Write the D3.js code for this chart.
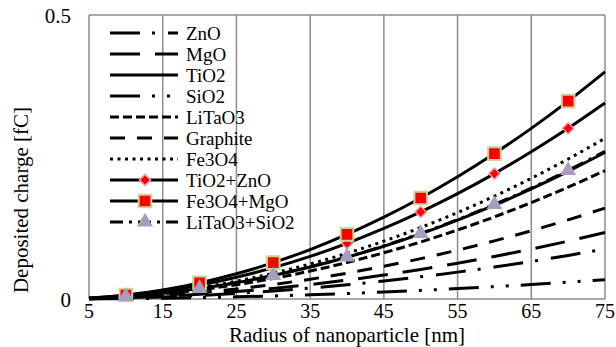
<!DOCTYPE html>
<html lang="en">
<head>
    <script src="https://d3js.org/d3.v7.min.js"></script>
    <style>
        body { margin: 0; background: #fff; }
    </style>
</head>
<body>
<script>
    const w = 616
    const h = 347
    const font = "'Liberation Serif', 'Times New Roman', 'DejaVu Serif', serif"

    // radius of nanoparticle [nm]
    const radius = [5, 10, 15, 20, 25, 30, 35, 40, 45, 50, 55, 60, 65, 70, 75]

    // deposited charge [fC]
    const znO     = [0.0004, 0.0016, 0.0035, 0.0063, 0.0098, 0.0141, 0.0192, 0.025, 0.0317, 0.0391, 0.0473, 0.0563, 0.0661, 0.0767, 0.088]
    const mgO     = [0.0005, 0.0021, 0.0047, 0.0083, 0.013, 0.0187, 0.0255, 0.0333, 0.0421, 0.052, 0.0629, 0.0749, 0.0879, 0.1019, 0.117]
    const tiO2    = [0.0011, 0.0046, 0.0103, 0.0183, 0.0287, 0.0413, 0.0562, 0.0734, 0.0929, 0.1147, 0.1388, 0.1651, 0.1938, 0.2247, 0.258]
    const siO2    = [0.0002, 0.0006, 0.0014, 0.0024, 0.0038, 0.0054, 0.0074, 0.0097, 0.0122, 0.0151, 0.0183, 0.0218, 0.0255, 0.0296, 0.034]
    const liTaO3  = [0.001, 0.004, 0.009, 0.0161, 0.0251, 0.0362, 0.0492, 0.0643, 0.0814, 0.1004, 0.1215, 0.1446, 0.1698, 0.1969, 0.226]
    const graphite = [0.0007, 0.0028, 0.0064, 0.0114, 0.0178, 0.0256, 0.0348, 0.0455, 0.0576, 0.0711, 0.086, 0.1024, 0.1202, 0.1394, 0.16]
    const fe3O4   = [0.0013, 0.005, 0.0113, 0.0201, 0.0314, 0.0453, 0.0616, 0.0805, 0.1019, 0.1258, 0.1522, 0.1811, 0.2125, 0.2465, 0.283]
    const tiO2ZnO = [0.0015, 0.0061, 0.0138, 0.0245, 0.0383, 0.0552, 0.0751, 0.0981, 0.1242, 0.1533, 0.1855, 0.2208, 0.2591, 0.3005, 0.345]
    const fe3O4MgO = [0.0018, 0.0071, 0.016, 0.0284, 0.0444, 0.064, 0.0871, 0.1138, 0.144, 0.1778, 0.2151, 0.256, 0.3004, 0.3484, 0.40]
    const liTaO3SiO2 = [0.0012, 0.0046, 0.0104, 0.0185, 0.0289, 0.0416, 0.0566, 0.074, 0.0936, 0.1156, 0.1398, 0.1664, 0.1953, 0.2265, 0.26]

    const xTicks = [5, 15, 25, 35, 45, 55, 65, 75]
    const yTicks = [0, 0.5]

    // name, values, dash, marker
    const series = [
        {name: "ZnO", vals: znO, dash: "30,12,3,13", marker: null},
        {name: "MgO", vals: mgO, dash: "30,15", marker: null},
        {name: "TiO2", vals: tiO2, dash: null, marker: null},
        {name: "SiO2", vals: siO2, dash: "30,12,3,12,3,12", marker: null},
        {name: "LiTaO3", vals: liTaO3, dash: "9,4", marker: null},
        {name: "Graphite", vals: graphite, dash: "15,12", marker: null},
        {name: "Fe3O4", vals: fe3O4, dash: "3,4.5", marker: null},
        {name: "TiO2+ZnO", vals: tiO2ZnO, dash: null, marker: "diamond"},
        {name: "Fe3O4+MgO", vals: fe3O4MgO, dash: null, marker: "square"},
        {name: "LiTaO3+SiO2", vals: liTaO3SiO2, dash: "13,6,3,6", marker: "triangle"}
    ]

    var svg = d3.select("body")
        .append("svg")
        .attr("width", w)
        .attr("height", h)
        .attr("font-family", font)

    let xScale = d3.scaleLinear().domain([5, 75]).range([89, 605])
    let yScale = d3.scaleLinear().domain([0, 0.5]).range([299, 15])

    // vertical grid lines + frame
    svg.selectAll("grid")
        .data(xTicks)
        .enter()
        .append("line")
        .attr("x1", d => xScale(d))
        .attr("x2", d => xScale(d))
        .attr("y1", yScale(0))
        .attr("y2", yScale(0.5))
        .attr("stroke", "#8c8c8c")
        .attr("stroke-width", 1.5)

    svg.append("line")
        .attr("x1", xScale(5)).attr("x2", xScale(75))
        .attr("y1", yScale(0.5)).attr("y2", yScale(0.5))
        .attr("stroke", "#8c8c8c").attr("stroke-width", 1.5)
    svg.append("line")
        .attr("x1", xScale(5)).attr("x2", xScale(75))
        .attr("y1", yScale(0)).attr("y2", yScale(0))
        .attr("stroke", "#8c8c8c").attr("stroke-width", 1.5)

    // tick labels
    svg.selectAll("xlab")
        .data(xTicks)
        .enter()
        .append("text")
        .attr("x", d => xScale(d))
        .attr("y", 318)
        .attr("text-anchor", "middle")
        .attr("font-size", 20)
        .text(d => d)

    svg.selectAll("ylab")
        .data(yTicks)
        .enter()
        .append("text")
        .attr("x", 71)
        .attr("y", d => yScale(d) + 8)
        .attr("text-anchor", "end")
        .attr("font-size", 21)
        .text(d => d)

    svg.append("text")
        .attr("x", xScale(40))
        .attr("y", 342)
        .attr("text-anchor", "middle")
        .attr("font-size", 21)
        .text("Radius of nanoparticle [nm]")

    svg.append("text")
        .attr("transform", "translate(28," + 200 + ") rotate(-90)")
        .attr("text-anchor", "middle")
        .attr("font-size", 21)
        .text("Deposited charge [fC]")

    const line = d3.line()
        .x((d, i) => xScale(radius[i]))
        .y(d => yScale(d))
        .curve(d3.curveMonotoneX)

    const symbols = {
        diamond: {type: d3.symbolDiamond2, size: 80, fill: "#ff0000", stroke: "#e8a0a0", sw: 1.5},
        square: {type: d3.symbolSquare, size: 160, fill: "#ff0000", stroke: "#c4d79b", sw: 2},
        triangle: {type: d3.symbolTriangle, size: 110, fill: "#a89cc0", stroke: "none", sw: 0}
    }

    // curves
    series.forEach(s => {
        svg.append("path")
            .attr("d", line(s.vals))
            .attr("fill", "none")
            .attr("stroke", "#000")
            .attr("stroke-width", 3)
            .attr("stroke-dasharray", s.dash)
    })

    // markers every 10 nm
    series.filter(s => s.marker).forEach(s => {
        const m = symbols[s.marker]
        const pts = radius.map((r, i) => [r, s.vals[i]]).filter(p => p[0] % 10 === 0)
        svg.selectAll("m")
            .data(pts)
            .enter()
            .append("path")
            .attr("d", d3.symbol().type(m.type).size(m.size))
            .attr("transform", d => "translate(" + xScale(d[0]) + "," + yScale(d[1]) + ")")
            .attr("fill", m.fill)
            .attr("stroke", m.stroke)
            .attr("stroke-width", m.sw)
    })

    // legend
    const legY = 33, legStep = 21
    series.forEach((s, i) => {
        const y = legY + i * legStep
        svg.append("line")
            .attr("x1", 110).attr("x2", 178)
            .attr("y1", y).attr("y2", y)
            .attr("stroke", "#000")
            .attr("stroke-width", 3)
            .attr("stroke-dasharray", s.dash)
        if (s.marker) {
            const m = symbols[s.marker]
            svg.append("path")
                .attr("d", d3.symbol().type(m.type).size(m.size))
                .attr("transform", "translate(145," + y + ")")
                .attr("fill", m.fill)
                .attr("stroke", m.stroke)
                .attr("stroke-width", m.sw)
        }
        svg.append("text")
            .attr("x", 186)
            .attr("y", y + 7)
            .attr("font-size", 19)
            .text(s.name)
    })
</script>
</body>
</html>
